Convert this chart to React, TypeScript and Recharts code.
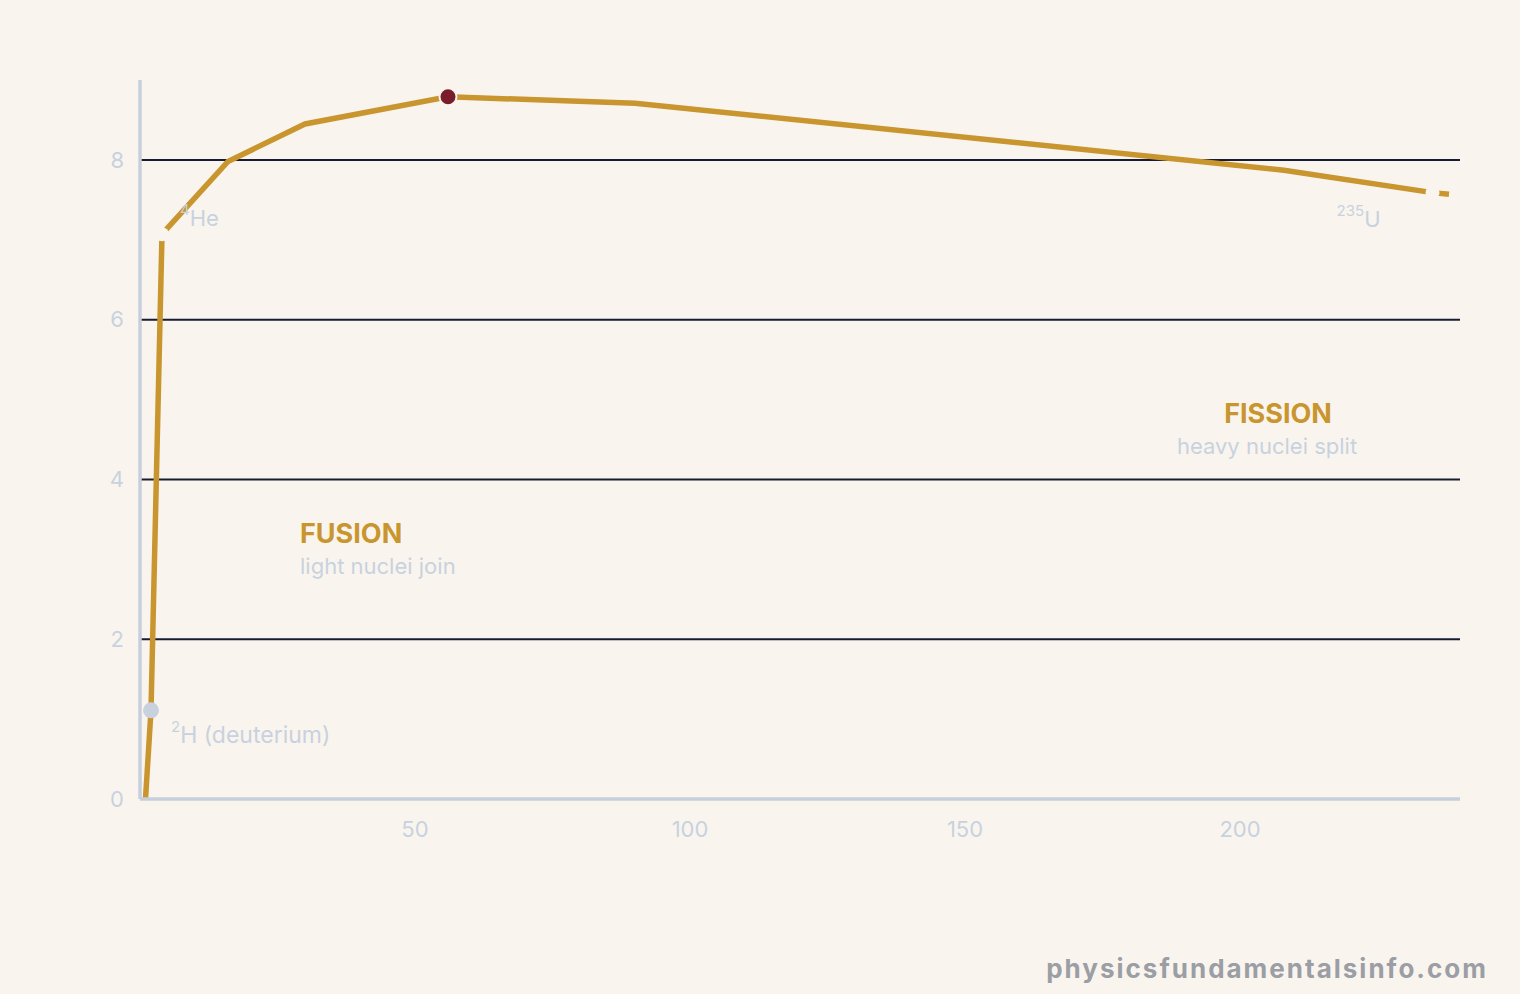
// Binding energy per nucleon curve (fusion / fission)
import { CartesianGrid, Line, LineChart, XAxis, YAxis } from 'recharts';

const massNumber = [1, 2, 4, 16, 30, 56, 90, 208, 235, 238];
const bindingEnergy = [0, 1.11, 7.07, 7.98, 8.45, 8.79, 8.71, 7.87, 7.59, 7.57];
const isotopeSup = ['', '2', '4', '', '', '', '', '', '235', ''];
const isotopeSym = ['', 'H (deuterium)', 'He', '', '', '', '', '', 'U', ''];
const xTicks = [50, 100, 150, 200];
const yTicks = [0, 2, 4, 6, 8];
const gridValues = [2, 4, 6, 8];
const PEAK_A = 56;
const DEUTERIUM_A = 2;
const CUT_A = [4, 235];

const data = massNumber.map((a, i) => ({ a, e: bindingEnergy[i], sup: isotopeSup[i], sym: isotopeSym[i] }));

const BG = '#f9f5ee';
const GOLD = '#c9952f';
const PALE = '#c8d2de';
const FONT = 'Inter, "Noto Sans", sans-serif';

function renderLabel(props: any) {
  const { cx, cy, payload, index } = props;
  if (!payload.sym) return <g key={`l${index}`} />;
  let x = cx + 18, y = cy - 8, anchor: 'start' | 'end' = 'start', size = 22;
  if (payload.a === DEUTERIUM_A) { x = cx + 20; y = cy + 33; size = 23; }
  if (payload.a === 235) { x = cx - 52; y = cy + 34; anchor = 'end'; }
  return (
    <text key={`l${index}`} x={x} y={y} textAnchor={anchor} fill={PALE} fontSize={size} fontFamily={FONT}>
      <tspan fontSize={15} dy={-11}>{payload.sup}</tspan>
      <tspan dy={11}>{payload.sym}</tspan>
    </text>
  );
}

function renderDot(props: any) {
  const { cx, cy, payload, index } = props;
  if (payload.a === PEAK_A)
    return <circle key={`d${index}`} cx={cx} cy={cy} r={8.5} fill="#7a1d2b" stroke={BG} strokeWidth={2} />;
  if (payload.a === DEUTERIUM_A)
    return <circle key={`d${index}`} cx={cx} cy={cy} r={8} fill={PALE} />;
  if (CUT_A.includes(payload.a))
    return <circle key={`d${index}`} cx={cx} cy={cy} r={7} fill={BG} />;
  return <g key={`d${index}`} />;
}

export default function App() {
  return (
    <div style={{ position: 'absolute', left: 0, top: 0, width: 1520, height: 994, background: BG, fontFamily: FONT }}>
      <LineChart width={1520} height={994} data={data} margin={{ top: 80, right: 60, bottom: 155, left: 100 }}>
        <CartesianGrid vertical={false} horizontalValues={gridValues} stroke="#161c32" strokeWidth={2} />
        <XAxis dataKey="a" type="number" domain={[0, 240]} ticks={xTicks} tickLine={false}
          axisLine={{ stroke: '#c6cfdb', strokeWidth: 3.5 }} tickMargin={16} height={40}
          tick={{ fill: PALE, fontSize: 22, fontFamily: FONT }} />
        <YAxis type="number" domain={[0, 9]} ticks={yTicks} tickLine={false} width={40}
          axisLine={{ stroke: '#c6cfdb', strokeWidth: 3.5 }} tickMargin={10}
          tick={{ fill: PALE, fontSize: 22, fontFamily: FONT }} />
        <Line dataKey="e" stroke="none" dot={renderLabel} activeDot={false} isAnimationActive={false} />
        <Line dataKey="e" stroke={GOLD} strokeWidth={5.5} dot={renderDot} activeDot={false} isAnimationActive={false} />
      </LineChart>
      <svg width={1520} height={994} style={{ position: 'absolute', left: 0, top: 0, pointerEvents: 'none' }}>
        <text x={300} y={543} fill={GOLD} fontSize={27} fontWeight={700} fontFamily={FONT}>FUSION</text>
        <text x={300} y={574} fill={PALE} fontSize={22} fontFamily={FONT}>light nuclei join</text>
        <text x={1278} y={423} textAnchor="middle" fill={GOLD} fontSize={27} fontWeight={700} fontFamily={FONT}>FISSION</text>
        <text x={1267} y={454} textAnchor="middle" fill={PALE} fontSize={22} fontFamily={FONT}>heavy nuclei split</text>
        <text x={1488} y={978} textAnchor="end" fill="#9b9ea5" fontSize={26} fontWeight={700} letterSpacing={2} fontFamily={FONT}>physicsfundamentalsinfo.com</text>
      </svg>
    </div>
  );
}
